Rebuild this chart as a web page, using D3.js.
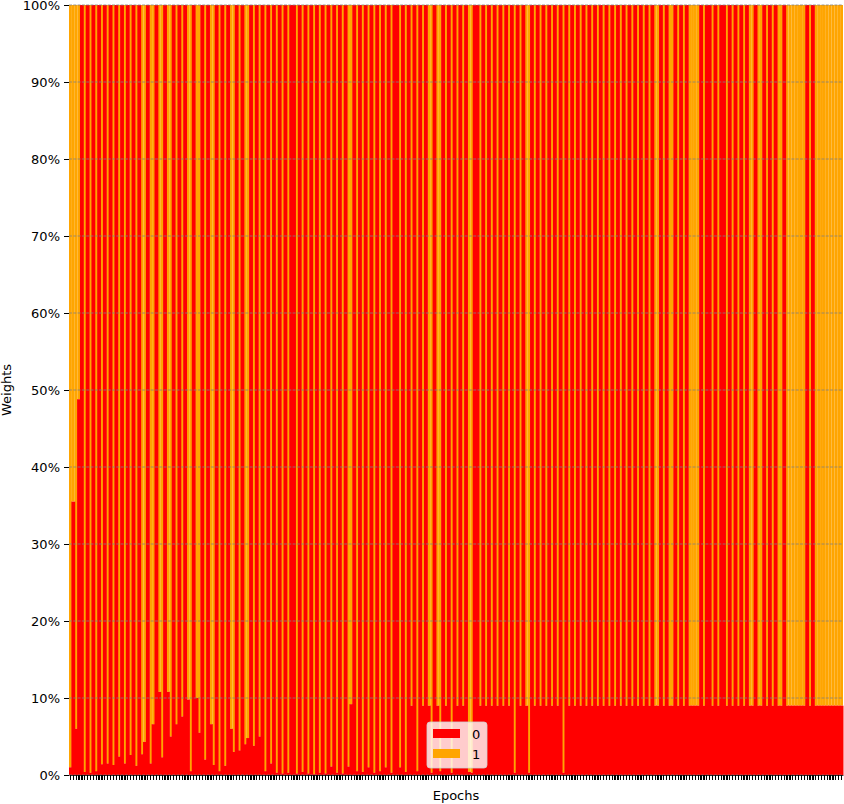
<!DOCTYPE html>
<html>
<head>
<meta charset="utf-8">
<script src="https://cdn.jsdelivr.net/npm/d3@7"></script>
<style>
  body { margin: 0; background: #fff; }
  svg text { font-family: "DejaVu Sans", sans-serif; }
</style>
</head>
<body>
<svg id="chart" width="844" height="804"></svg>
<script>
// share of weight on class "0" per epoch (percent)
var weight0 = [
  1, 35.5, 6, 48.8, 100, 0.4, 100, 0.3, 100, 0.5,
  100, 1.4, 100, 1.5, 100, 1.3, 100, 2.4, 100, 1.5,
  100, 2.6, 100, 1.2, 100, 2.7, 4.3, 100, 1.5, 6.6,
  100, 10.8, 2.3, 100, 10.8, 5, 100, 6.6, 100, 7.6,
  100, 9.8, 0.5, 100, 10, 5.5, 100, 2, 100, 6.6,
  1.3, 100, 0.5, 100, 1.2, 100, 6, 3, 100, 3.2,
  100, 4, 4.8, 100, 3.8, 100, 5, 100, 0.5, 100,
  1.5, 100, 0.3, 100, 0.2, 100, 0.3, 100, 100, 0.2,
  100, 0.4, 100, 0.2, 100, 0.1, 100, 0.3, 100, 0.2,
  100, 1.1, 100, 0.3, 100, 0.2, 100, 1.1, 9.2, 100,
  0.5, 100, 0.4, 100, 1, 100, 0.3, 100, 0.5, 100,
  1, 100, 0.3, 100, 100, 1, 100, 0.4, 100, 9,
  100, 0.5, 100, 9, 100, 9, 0.3, 100, 9, 0.5,
  100, 9, 100, 0.3, 100, 9, 100, 9, 100, 0.4,
  0.3, 100, 100, 9, 100, 9, 100, 9, 100, 9,
  100, 9, 100, 9, 100, 0.3, 100, 9, 100, 9,
  0.3, 100, 9, 100, 9, 100, 9, 100, 9, 100,
  9, 100, 0.3, 100, 9, 100, 9, 100, 9, 100,
  9, 100, 9, 100, 9, 100, 9, 100, 9, 100,
  9, 100, 9, 100, 9, 100, 9, 100, 9, 100,
  9, 100, 9, 100, 9, 9, 100, 9, 100, 9,
  9, 100, 9, 100, 9, 100, 9, 9, 9, 9,
  100, 9, 100, 100, 9, 100, 9, 100, 100, 9,
  100, 9, 100, 9, 100, 9, 100, 9, 9, 100,
  9, 9, 100, 9, 100, 9, 100, 9, 9, 100,
  9, 9, 9, 9, 9, 9, 9, 100, 9, 100,
  9, 9, 9, 9, 9, 9, 9, 9, 9, 9
];
// the two weights of an epoch add up to 100%
var weight1 = weight0.map(v => 100 - v);
var epochs = weight0.map((v, i) => i);
var classes = ["0", "1"];
var colors = ["red", "orange"];
var yTicks = [0, 0.1, 0.2, 0.3, 0.4, 0.5, 0.6, 0.7, 0.8, 0.9, 1];

function drawChart() {
  var svg = d3.select("#chart");
  var plotLeft = 69, plotRight = 843, plotTop = 5, plotBottom = 775;

  var rows = epochs.map((e, i) => ({epoch: e, "0": weight0[i], "1": weight1[i]}));
  var series = d3.stack().keys(classes).offset(d3.stackOffsetExpand)(rows);

  var x = d3.scaleBand().domain(epochs).range([plotLeft, plotRight]).padding(0);
  var y = d3.scaleLinear().domain([0, 1]).range([plotBottom, plotTop]);
  var color = d3.scaleOrdinal(classes, colors);

  // orange layer first, the red layer on top with a little bleed (antialiased look)
  var bleed = {"0": 0.5, "1": 0};
  svg.append("g")
    .selectAll("g")
    .data(series.slice().reverse())
    .join("g")
      .attr("fill", d => color(d.key))
    .each(function(s) {
      d3.select(this).selectAll("rect")
        .data(s)
        .join("rect")
          .attr("x", d => Math.max(plotLeft, x(d.data.epoch) - bleed[s.key]))
          .attr("width", d => x.bandwidth() + 2 * bleed[s.key])
          .attr("y", d => y(d[1]))
          .attr("height", d => y(d[0]) - y(d[1]));
    });

  // dashed grid drawn over the bars
  svg.append("g")
    .selectAll("line")
    .data(yTicks)
    .join("line")
      .attr("x1", plotLeft).attr("x2", plotRight)
      .attr("y1", d => y(d)).attr("y2", d => y(d))
      .attr("stroke", "#808080")
      .attr("stroke-width", 0.8)
      .attr("stroke-dasharray", "3,1.3");

  var yAxis = svg.append("g")
    .attr("transform", `translate(${plotLeft},0)`)
    .call(d3.axisLeft(y).tickValues(yTicks).tickFormat(d3.format(".0%")).tickSize(5).tickPadding(4));
  yAxis.select(".domain").remove();
  yAxis.selectAll("text").attr("font-size", 13).attr("fill", "#000");

  var xAxis = svg.append("g")
    .attr("transform", `translate(0,${plotBottom})`)
    .call(d3.axisBottom(x).tickSize(5).tickSizeOuter(0).tickFormat(""));
  xAxis.select(".domain").attr("stroke-width", 0.8);
  xAxis.selectAll(".tick line")
    .attr("stroke-width", 1.3)
    .attr("shape-rendering", "crispEdges");

  svg.append("text")
    .attr("x", (plotLeft + plotRight) / 2)
    .attr("y", 800)
    .attr("text-anchor", "middle")
    .attr("font-size", 13)
    .text("Epochs");

  svg.append("text")
    .attr("transform", `translate(11,${(plotTop + plotBottom) / 2}) rotate(-90)`)
    .attr("text-anchor", "middle")
    .attr("font-size", 13)
    .text("Weights");

  // legend
  var legend = svg.append("g").attr("transform", "translate(427,722)");
  legend.append("rect")
    .attr("width", 60).attr("height", 46).attr("rx", 3)
    .attr("fill", "white").attr("fill-opacity", 0.8)
    .attr("stroke", "#d0d0d0").attr("stroke-width", 0.8);
  classes.forEach((c, i) => {
    legend.append("rect")
      .attr("x", 6).attr("y", 7 + i * 20)
      .attr("width", 27).attr("height", 9)
      .attr("fill", color(c));
    legend.append("text")
      .attr("x", 45).attr("y", 16.5 + i * 20)
      .attr("font-size", 13)
      .text(c);
  });
}

drawChart();
</script>
</body>
</html>
